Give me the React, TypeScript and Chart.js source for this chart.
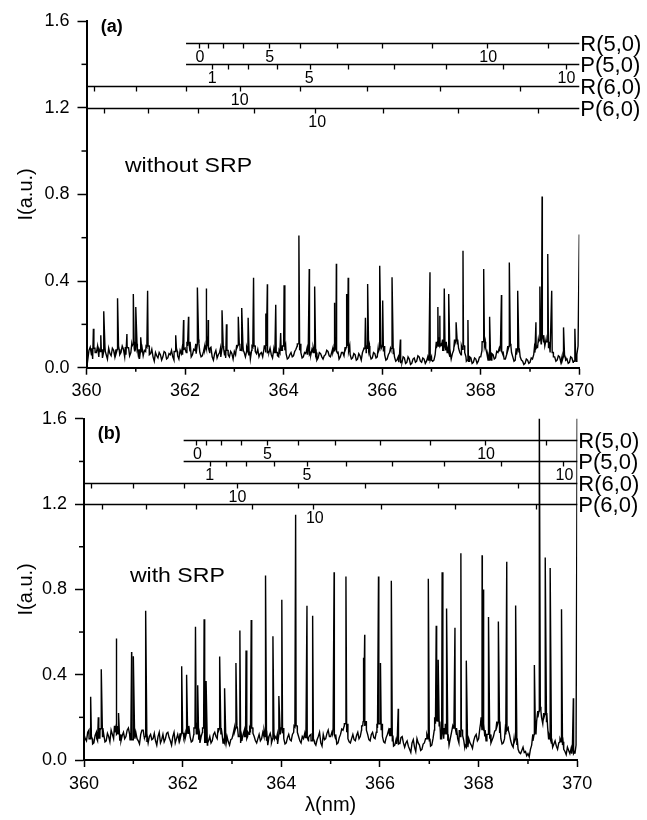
import React, { useEffect, useRef } from "react";
import { Chart, registerables } from "chart.js";

Chart.register(...registerables);

const FONT = "'Liberation Sans', Arial, Helvetica, sans-serif";

// continuum sampling grid (nm)
const WL_START = 360;
const WL_STEP = 0.025;
const PEAK_HALF_WIDTH = 0.032;

// axis ticks
const X_MIN = 360;
const X_MAX = 370;
const Y_MIN = 0;
const Y_MAX = 1.6;
const X_MINOR = [361, 363, 365, 367, 369];
const Y_MINOR = [0.2, 0.6, 1.0, 1.4];

// ---------- panel (a): without SRP (continuum, 0.025 nm steps from 360 nm) ----------
const baselineA = [
  0.055, 0.035, 0.08, 0.095, 0.06, 0.04, 0.09, 0.07, 0.07, 0.1, 0.05, 0.075, 0.085, 0.045, 0.075, 0.095, 0.06, 0.04, 0.09, 0.065,
  0.055, 0.09, 0.08, 0.05, 0.065, 0.085, 0.1, 0.06, 0.07, 0.1, 0.085, 0.05, 0.06, 0.095, 0.09, 0.055, 0.07, 0.1, 0.11, 0.075,
  0.09, 0.11, 0.06, 0.04, 0.085, 0.07, 0.055, 0.08, 0.075, 0.095, 0.1, 0.06, 0.065, 0.085, 0.05, 0.03, 0.07, 0.055, 0.045, 0.07,
  0.06, 0.035, 0.05, 0.075, 0.07, 0.04, 0.045, 0.065, 0.06, 0.08, 0.05, 0.035, 0.075, 0.09, 0.055, 0.04, 0.08, 0.065, 0.06, 0.085,
  0.09, 0.07, 0.1, 0.12, 0.075, 0.05, 0.06, 0.085, 0.08, 0.065, 0.11, 0.13, 0.07, 0.05, 0.055, 0.075, 0.08, 0.1, 0.12, 0.09,
  0.07, 0.095, 0.05, 0.035, 0.065, 0.08, 0.045, 0.06, 0.07, 0.05, 0.09, 0.1, 0.06, 0.045, 0.08, 0.06, 0.05, 0.075, 0.065, 0.04,
  0.075, 0.06, 0.09, 0.105, 0.11, 0.085, 0.08, 0.1, 0.07, 0.05, 0.095, 0.075, 0.06, 0.04, 0.08, 0.095, 0.1, 0.075, 0.065, 0.085,
  0.05, 0.065, 0.07, 0.05, 0.085, 0.1, 0.1, 0.07, 0.075, 0.09, 0.06, 0.045, 0.085, 0.095, 0.07, 0.055, 0.05, 0.07, 0.08, 0.1,
  0.1, 0.08, 0.065, 0.04, 0.045, 0.06, 0.07, 0.05, 0.055, 0.075, 0.085, 0.1, 0.11, 0.08, 0.07, 0.045, 0.05, 0.07, 0.065, 0.09,
  0.09, 0.06, 0.07, 0.085, 0.095, 0.07, 0.06, 0.035, 0.045, 0.07, 0.065, 0.05, 0.04, 0.055, 0.06, 0.08, 0.075, 0.055, 0.05, 0.07,
  0.07, 0.09, 0.1, 0.075, 0.065, 0.04, 0.05, 0.07, 0.07, 0.055, 0.08, 0.095, 0.1, 0.075, 0.06, 0.04, 0.045, 0.065, 0.06, 0.035,
  0.04, 0.065, 0.055, 0.035, 0.07, 0.085, 0.09, 0.07, 0.1, 0.08, 0.06, 0.04, 0.045, 0.07, 0.065, 0.045, 0.05, 0.075, 0.09, 0.105,
  0.1, 0.075, 0.06, 0.035, 0.04, 0.06, 0.07, 0.085, 0.09, 0.065, 0.05, 0.03, 0.035, 0.05, 0.055, 0.025, 0.03, 0.05, 0.045, 0.02,
  0.025, 0.05, 0.04, 0.015, 0.02, 0.04, 0.045, 0.025, 0.03, 0.055, 0.05, 0.03, 0.025, 0.045, 0.04, 0.02, 0.03, 0.05, 0.06, 0.035,
  0.05, 0.03, 0.035, 0.06, 0.09, 0.12, 0.14, 0.1, 0.11, 0.13, 0.08, 0.1, 0.12, 0.09, 0.07, 0.05, 0.04, 0.065, 0.08, 0.11,
  0.13, 0.11, 0.09, 0.07, 0.06, 0.085, 0.1, 0.07, 0.05, 0.035, 0.03, 0.05, 0.045, 0.02, 0.025, 0.045, 0.04, 0.02, 0.03, 0.05,
  0.05, 0.08, 0.12, 0.1, 0.09, 0.065, 0.06, 0.035, 0.04, 0.065, 0.06, 0.04, 0.045, 0.075, 0.07, 0.09, 0.1, 0.075, 0.06, 0.04,
  0.04, 0.06, 0.08, 0.1, 0.11, 0.07, 0.05, 0.03, 0.035, 0.06, 0.09, 0.07, 0.05, 0.035, 0.03, 0.015, 0.02, 0.04, 0.035, 0.02,
  0.025, 0.045, 0.04, 0.06, 0.07, 0.09, 0.1, 0.12, 0.13, 0.11, 0.15, 0.12, 0.1, 0.13, 0.12, 0.09, 0.09, 0.07, 0.07, 0.05,
  0.05, 0.03, 0.035, 0.055, 0.05, 0.025, 0.03, 0.05, 0.06, 0.035, 0.04, 0.02, 0.025, 0.05, 0.045, 0.025, 0.03, 0.055, 0.06, 0.1,
  0.615,
];
const peakWlA = [
  360.14, 360.29, 360.35, 360.63, 360.82, 360.95, 361.0, 361.1, 361.24,
  361.81, 361.97, 362.07, 362.25, 362.43, 362.47, 362.75, 362.84,
  363.08, 363.15, 363.28, 363.39, 363.64, 363.67, 363.84, 363.94, 364.01,
  364.31, 364.52, 364.63, 365.03, 365.07, 365.28, 365.31, 365.66, 365.71,
  365.95, 366.01, 366.2, 366.37, 366.97, 367.13, 367.17, 367.26, 367.35,
  367.5, 367.64, 367.74, 368.06, 368.18, 368.42, 368.58, 368.75,
  369.12, 369.2, 369.245, 369.36, 369.44, 369.68, 369.91,
];
const peakIA = [
  0.18, 0.15, 0.26, 0.32, 0.155, 0.34, 0.28, 0.14, 0.355,
  0.15, 0.22, 0.235, 0.37, 0.365, 0.22, 0.265, 0.2,
  0.235, 0.275, 0.23, 0.415, 0.25, 0.385, 0.29, 0.16, 0.38,
  0.61, 0.455, 0.375, 0.3, 0.48, 0.34, 0.415, 0.23, 0.386,
  0.47, 0.31, 0.417, 0.13, 0.44, 0.28, 0.24, 0.366, 0.34,
  0.21, 0.54, 0.22, 0.455, 0.235, 0.335, 0.486, 0.355,
  0.21, 0.375, 0.79, 0.525, 0.355, 0.186, 0.18,
];

// ---------- panel (b): with SRP (continuum, 0.025 nm steps from 360 nm) ----------
const baselineB = [
  0.12, 0.1, 0.09, 0.13, 0.14, 0.1, 0.11, 0.075, 0.08, 0.115, 0.13, 0.09, 0.1, 0.14, 0.15, 0.11, 0.12, 0.085, 0.09, 0.125,
  0.11, 0.085, 0.14, 0.12, 0.1, 0.13, 0.16, 0.125, 0.12, 0.09, 0.09, 0.115, 0.13, 0.1, 0.11, 0.14, 0.15, 0.12, 0.12, 0.095,
  0.1, 0.125, 0.13, 0.1, 0.09, 0.075, 0.12, 0.14, 0.14, 0.105, 0.11, 0.085, 0.08, 0.11, 0.12, 0.095, 0.1, 0.125, 0.09, 0.07,
  0.11, 0.13, 0.08, 0.095, 0.12, 0.085, 0.1, 0.125, 0.13, 0.105, 0.09, 0.07, 0.11, 0.13, 0.08, 0.1, 0.12, 0.09, 0.1, 0.125,
  0.13, 0.105, 0.1, 0.125, 0.14, 0.16, 0.11, 0.085, 0.09, 0.12, 0.15, 0.13, 0.12, 0.095, 0.08, 0.11, 0.13, 0.15, 0.1, 0.08,
  0.07, 0.09, 0.11, 0.08, 0.09, 0.12, 0.13, 0.11, 0.1, 0.135, 0.15, 0.12, 0.12, 0.095, 0.08, 0.1, 0.11, 0.085, 0.07, 0.095,
  0.1, 0.125, 0.13, 0.15, 0.16, 0.12, 0.11, 0.08, 0.09, 0.12, 0.14, 0.11, 0.1, 0.13, 0.12, 0.14, 0.15, 0.125, 0.11, 0.09,
  0.08, 0.1, 0.12, 0.09, 0.1, 0.13, 0.14, 0.11, 0.09, 0.07, 0.11, 0.125, 0.08, 0.1, 0.13, 0.11, 0.1, 0.075, 0.12, 0.14,
  0.15, 0.125, 0.1, 0.075, 0.08, 0.105, 0.12, 0.095, 0.09, 0.12, 0.13, 0.155, 0.16, 0.13, 0.11, 0.09, 0.08, 0.11, 0.1, 0.125,
  0.13, 0.105, 0.09, 0.115, 0.12, 0.09, 0.1, 0.08, 0.07, 0.095, 0.11, 0.13, 0.08, 0.065, 0.12, 0.095, 0.1, 0.125, 0.14, 0.11,
  0.11, 0.13, 0.15, 0.12, 0.1, 0.075, 0.08, 0.105, 0.12, 0.145, 0.14, 0.16, 0.17, 0.13, 0.1, 0.085, 0.08, 0.1, 0.12, 0.095,
  0.09, 0.115, 0.13, 0.1, 0.11, 0.14, 0.16, 0.19, 0.18, 0.14, 0.12, 0.095, 0.09, 0.12, 0.13, 0.105, 0.1, 0.13, 0.15, 0.17,
  0.17, 0.14, 0.11, 0.085, 0.08, 0.105, 0.12, 0.14, 0.15, 0.115, 0.09, 0.065, 0.07, 0.095, 0.1, 0.075, 0.08, 0.105, 0.11, 0.08,
  0.06, 0.08, 0.09, 0.065, 0.05, 0.035, 0.08, 0.095, 0.06, 0.04, 0.1, 0.08, 0.07, 0.045, 0.05, 0.075, 0.08, 0.1, 0.12, 0.1,
  0.09, 0.065, 0.07, 0.1, 0.14, 0.17, 0.2, 0.18, 0.16, 0.125, 0.1, 0.13, 0.15, 0.17, 0.12, 0.09, 0.07, 0.1, 0.13, 0.16,
  0.18, 0.15, 0.12, 0.1, 0.08, 0.11, 0.14, 0.115, 0.09, 0.07, 0.06, 0.085, 0.1, 0.08, 0.07, 0.055, 0.09, 0.11, 0.12, 0.09,
  0.1, 0.15, 0.2, 0.17, 0.14, 0.11, 0.09, 0.12, 0.12, 0.1, 0.08, 0.095, 0.11, 0.135, 0.14, 0.16, 0.18, 0.13, 0.1, 0.075,
  0.08, 0.1, 0.12, 0.14, 0.15, 0.12, 0.09, 0.07, 0.06, 0.085, 0.1, 0.07, 0.05, 0.035, 0.03, 0.045, 0.06, 0.035, 0.04, 0.02,
  0.03, 0.015, 0.05, 0.07, 0.09, 0.12, 0.14, 0.18, 0.2, 0.23, 0.25, 0.2, 0.17, 0.2, 0.22, 0.18, 0.15, 0.12, 0.1, 0.08,
  0.06, 0.075, 0.09, 0.065, 0.05, 0.08, 0.1, 0.085, 0.07, 0.05, 0.04, 0.025, 0.06, 0.045, 0.03, 0.055, 0.05, 0.03, 0.04, 0.07,
  1.7,
];
const peakWlB = [
  360.135, 360.29, 360.35, 360.65, 360.7, 360.965, 361.0, 361.25,
  361.98, 362.08, 362.26, 362.31, 362.435, 362.475, 362.75, 362.85,
  363.08, 363.16, 363.285, 363.39, 363.68, 363.83, 363.95, 364.01,
  364.29, 364.52, 364.635, 365.07, 365.31, 365.66, 365.69, 365.97,
  366.01, 366.23, 366.37, 366.98, 367.14, 367.18, 367.26, 367.35,
  367.52, 367.64, 367.75, 368.07, 368.1, 368.2, 368.4, 368.57, 368.75,
  369.13, 369.23, 369.35, 369.45, 369.68, 369.92,
];
const peakIB = [
  0.297, 0.2, 0.425, 0.57, 0.22, 0.506, 0.487, 0.7,
  0.44, 0.4, 0.625, 0.35, 0.66, 0.37, 0.485, 0.336,
  0.455, 0.607, 0.513, 0.656, 0.865, 0.58, 0.3, 0.752,
  1.15, 0.723, 0.676, 0.88, 0.86, 0.48, 0.587, 0.86,
  0.455, 0.84, 0.24, 0.85, 0.63, 0.47, 0.88, 0.71,
  0.62, 0.97, 0.466, 0.96, 0.8, 0.67, 0.65, 0.93, 0.725,
  0.445, 1.7, 0.95, 0.9, 0.707, 0.29,
];

// ---------- rotational branch assignments (same in both panels) ----------
const branchNames = ["R(5,0)", "P(5,0)", "R(6,0)", "P(6,0)"];
const branchLevels = [1.5, 1.4, 1.3, 1.2];
const branchStarts = [362.02, 362.02, 360, 360];
const r50Lines = [362.28, 362.47, 362.77, 363.18, 363.7, 364.33, 365.08, 366.0, 367.01, 368.12, 369.36];
const p50Lines = [362.55, 362.88, 363.28, 363.86, 364.53, 365.31, 366.24, 367.29, 368.45, 369.72];
const r60Lines = [360.15, 361.0, 362.02, 363.11, 364.33, 365.69, 367.17, 368.8];
const p60Lines = [360.36, 361.25, 362.27, 363.4, 364.64, 366.02, 367.53, 369.17];
const r50LabelText = ["0", "5", "10"];
const r50LabelWl = [362.3, 363.72, 368.15];
const p50LabelText = ["1", "5", "10"];
const p50LabelWl = [362.55, 364.52, 369.74];
const r60LabelText = ["10"];
const r60LabelWl = [363.11];
const p60LabelText = ["10"];
const p60LabelWl = [364.68];

const BRANCHES = [
  { name: branchNames[0], level: branchLevels[0], start: branchStarts[0], lines: r50Lines, labels: r50LabelText, labelWl: r50LabelWl },
  { name: branchNames[1], level: branchLevels[1], start: branchStarts[1], lines: p50Lines, labels: p50LabelText, labelWl: p50LabelWl },
  { name: branchNames[2], level: branchLevels[2], start: branchStarts[2], lines: r60Lines, labels: r60LabelText, labelWl: r60LabelWl },
  { name: branchNames[3], level: branchLevels[3], start: branchStarts[3], lines: p60Lines, labels: p60LabelText, labelWl: p60LabelWl },
];

function buildSpectrum(base: number[], wl: number[], inten: number[]) {
  const pts: { x: number; y: number }[] = base.map((v, i) => ({
    x: Math.round((WL_START + i * WL_STEP) * 1000) / 1000,
    y: v,
  }));
  wl.forEach((p, k) => {
    const foot = base[Math.round((p - WL_START) / WL_STEP)];
    pts.push({ x: p - PEAK_HALF_WIDTH, y: foot });
    pts.push({ x: p, y: inten[k] });
    pts.push({ x: p + PEAK_HALF_WIDTH, y: foot });
  });
  pts.sort((a, b) => a.x - b.x);
  return pts;
}

const minorTicksPlugin = {
  id: "minorTicks",
  afterDraw(chart: any) {
    const { ctx } = chart;
    const x = chart.scales.x;
    const y = chart.scales.y;
    ctx.save();
    ctx.strokeStyle = "#000";
    ctx.lineWidth = 1.5;
    X_MINOR.forEach((v) => {
      const px = x.getPixelForValue(v);
      ctx.beginPath();
      ctx.moveTo(px, x.top);
      ctx.lineTo(px, x.top + 4);
      ctx.stroke();
    });
    Y_MINOR.forEach((v) => {
      const py = y.getPixelForValue(v);
      ctx.beginPath();
      ctx.moveTo(y.right - 5, py);
      ctx.lineTo(y.right, py);
      ctx.stroke();
    });
    ctx.restore();
  },
};

const branchPlugin = {
  id: "branches",
  afterDatasetsDraw(chart: any, _args: any, opts: any) {
    const { ctx } = chart;
    const x = chart.scales.x;
    const y = chart.scales.y;
    ctx.save();
    ctx.strokeStyle = "#000";
    ctx.fillStyle = "#000";
    ctx.lineWidth = 1.3;
    BRANCHES.forEach((b) => {
      const py = Math.round(y.getPixelForValue(b.level)) + 0.5;
      const x0 = x.getPixelForValue(b.start);
      const x1 = x.getPixelForValue(X_MAX);
      ctx.beginPath();
      ctx.moveTo(x0, py);
      ctx.lineTo(x1, py);
      ctx.stroke();
      b.lines.forEach((l) => {
        const px = Math.round(x.getPixelForValue(l)) + 0.5;
        ctx.beginPath();
        ctx.moveTo(px, py);
        ctx.lineTo(px, py + 5);
        ctx.stroke();
      });
      ctx.font = `16px ${FONT}`;
      ctx.textAlign = "center";
      ctx.textBaseline = "middle";
      b.labels.forEach((t, i) => {
        ctx.fillText(t, x.getPixelForValue(b.labelWl[i]), py + 14);
      });
      ctx.font = `22px ${FONT}`;
      ctx.textAlign = "left";
      ctx.fillText(b.name, x1 + 1, py + 1);
    });
    // panel tag
    ctx.font = `bold 18px ${FONT}`;
    ctx.textAlign = "left";
    ctx.textBaseline = "middle";
    ctx.fillText(opts.tag, x.getPixelForValue(opts.tagPos[0]), y.getPixelForValue(opts.tagPos[1]));
    // condition note
    ctx.save();
    ctx.translate(x.getPixelForValue(opts.notePos[0]), y.getPixelForValue(opts.notePos[1]));
    ctx.scale(1.1, 1);
    ctx.font = `21px ${FONT}`;
    ctx.fillText(opts.note, 0, 0);
    ctx.restore();
    ctx.restore();
  },
};

const PANELS = [
  {
    baseline: baselineA, wl: peakWlA, inten: peakIA,
    tag: "(a)", tagPos: [360.29, 1.57], note: "without SRP", notePos: [360.78, 0.93],
    top: 0, height: 410, padTop: 21, padRight: 67.7, yWidth: 86.5, xHeight: 42.3, xTitle: false,
  },
  {
    baseline: baselineB, wl: peakWlB, inten: peakIB,
    tag: "(b)", tagPos: [360.28, 1.53], note: "with SRP", notePos: [360.93, 0.86],
    top: 400, height: 420, padTop: 15.7, padRight: 69.7, yWidth: 84, xHeight: 60, xTitle: true,
  },
];

function makeConfig(p: any): any {
  return {
    type: "line",
    data: {
      datasets: [
        {
          data: buildSpectrum(p.baseline, p.wl, p.inten),
          borderColor: "#000",
          borderWidth: 1.4,
          pointRadius: 0,
          tension: 0,
          fill: false,
        },
      ],
    },
    options: {
      animation: false,
      responsive: false,
      events: [],
      layout: { padding: { top: p.padTop, right: p.padRight, left: 0, bottom: 0 } },
      plugins: {
        legend: { display: false },
        tooltip: { enabled: false },
        branches: { tag: p.tag, tagPos: p.tagPos, note: p.note, notePos: p.notePos },
      },
      scales: {
        x: {
          type: "linear",
          min: X_MIN,
          max: X_MAX,
          afterFit: (s: any) => { s.height = p.xHeight; },
          ticks: {
            stepSize: 1,
            autoSkip: false,
            maxRotation: 0,
            padding: 6,
            color: "#000",
            font: { family: FONT, size: 18 },
            callback: (v: number) => (Math.round(v) % 2 === 0 ? String(v) : ""),
          },
          grid: {
            drawOnChartArea: false,
            drawTicks: true,
            tickLength: 7,
            tickWidth: 1.5,
            tickColor: (c: any) => (c.tick && Math.round(c.tick.value) % 2 === 0 ? "#000" : "rgba(0,0,0,0)"),
          },
          border: { display: true, color: "#000", width: 2 },
          title: {
            display: p.xTitle,
            text: "λ(nm)",
            color: "#000",
            font: { family: FONT, size: 20 },
            padding: { top: 0, bottom: 3 },
          },
        },
        y: {
          min: Y_MIN,
          max: Y_MAX,
          afterFit: (s: any) => { s.width = p.yWidth; },
          ticks: {
            stepSize: 0.2,
            padding: 8,
            color: "#000",
            font: { family: FONT, size: 18 },
            callback: (v: number) => (Math.round(v * 10) % 4 === 0 ? v.toFixed(1) : ""),
          },
          grid: {
            drawOnChartArea: false,
            drawTicks: true,
            tickLength: 9,
            tickWidth: 1.5,
            tickColor: (c: any) => (c.tick && Math.round(c.tick.value * 10) % 4 === 0 ? "#000" : "rgba(0,0,0,0)"),
          },
          border: { display: true, color: "#000", width: 2 },
          title: {
            display: true,
            text: "I(a.u.)",
            color: "#000",
            font: { family: FONT, size: 20 },
            padding: { top: 14, bottom: 0 },
          },
        },
      },
    },
    plugins: [minorTicksPlugin, branchPlugin],
  };
}

export default function App() {
  const refA = useRef<HTMLCanvasElement | null>(null);
  const refB = useRef<HTMLCanvasElement | null>(null);

  useEffect(() => {
    const charts: Chart[] = [];
    [refA, refB].forEach((r, i) => {
      if (r.current) charts.push(new Chart(r.current, makeConfig(PANELS[i])));
    });
    return () => charts.forEach((c) => c.destroy());
  }, []);

  return (
    <div style={{ position: "absolute", left: 0, top: 0, width: 647, height: 820, background: "#fff" }}>
      <canvas ref={refA} width={647} height={PANELS[0].height}
        style={{ position: "absolute", left: 0, top: PANELS[0].top, width: 647, height: PANELS[0].height }} />
      <canvas ref={refB} width={647} height={PANELS[1].height}
        style={{ position: "absolute", left: 0, top: PANELS[1].top, width: 647, height: PANELS[1].height }} />
    </div>
  );
}
